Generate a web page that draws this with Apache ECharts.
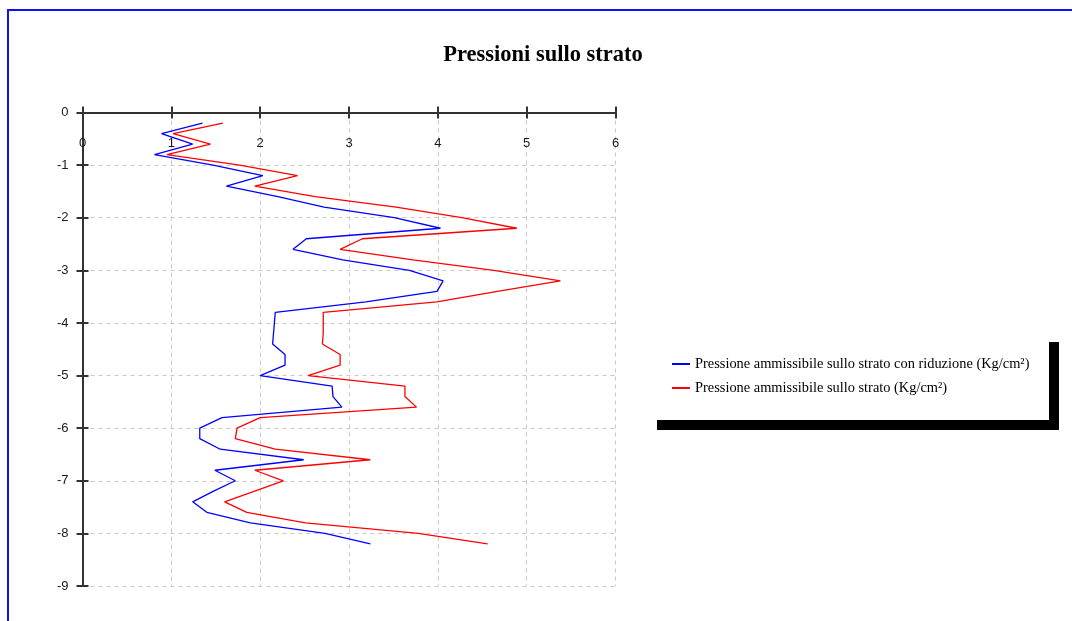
<!DOCTYPE html>
<html>
<head>
<meta charset="utf-8">
<title>Pressioni sullo strato</title>
<script src="https://cdn.jsdelivr.net/npm/echarts@6/dist/echarts.min.js"></script>
<style>
  html, body { margin: 0; padding: 0; background: #ffffff; }
  #chart { width: 1072px; height: 621px; }
</style>
</head>
<body>
<div id="chart"></div>
<script>
// Depth below ground level (m), one reading every 0.2 m
const depths = [
  0.2, 0.4, 0.6, 0.8, 1.0, 1.2, 1.4, 1.6, 1.8, 2.0,
  2.2, 2.4, 2.6, 2.8, 3.0, 3.2, 3.4, 3.6, 3.8, 4.0,
  4.2, 4.4, 4.6, 4.8, 5.0, 5.2, 5.4, 5.6, 5.8, 6.0,
  6.2, 6.4, 6.6, 6.8, 7.0, 7.2, 7.4, 7.6, 7.8, 8.0, 8.2
];

// Allowable pressure on the layer, with reduction (Kg/cm²)
const pressureReduced = [
  1.35, 0.89, 1.24, 0.81, 1.47, 2.03, 1.62, 2.20, 2.72, 3.51,
  4.03, 2.52, 2.37, 2.93, 3.68, 4.06, 3.99, 3.19, 2.17, 2.16,
  2.15, 2.14, 2.28, 2.28, 2.00, 2.81, 2.82, 2.92, 1.57, 1.32,
  1.32, 1.55, 2.49, 1.49, 1.72, 1.47, 1.24, 1.40, 1.89, 2.73, 3.24
];

// Allowable pressure on the layer (Kg/cm²)
const pressureAllowable = [
  1.58, 1.02, 1.44, 0.95, 1.77, 2.42, 1.94, 2.62, 3.53, 4.27,
  4.89, 3.15, 2.90, 3.72, 4.63, 5.38, 4.67, 3.99, 2.71, 2.71,
  2.71, 2.70, 2.90, 2.90, 2.54, 3.63, 3.63, 3.76, 2.00, 1.74,
  1.72, 2.17, 3.24, 1.94, 2.26, 1.93, 1.60, 1.85, 2.51, 3.78, 4.56
];

const seriesNames = [
  'Pressione ammissibile sullo strato con riduzione (Kg/cm²)',
  'Pressione ammissibile sullo strato (Kg/cm²)'
];

const xTicks = [0, 1, 2, 3, 4, 5, 6];
const yTicks = [0, -1, -2, -3, -4, -5, -6, -7, -8, -9];

function toPairs(values) {
  return values.map((v, i) => [v, -depths[i]]);
}

const chart = echarts.init(document.getElementById('chart'), null, { renderer: 'canvas' });

const labelFont = { fontFamily: 'Liberation Sans, Arial, sans-serif', fontSize: 13, color: '#1a1a1a' };
const axisDark = '#333333';
const gridDash = { color: '#c8c8c8', type: [4, 4], width: 1 };

const option = {
  backgroundColor: '#ffffff',
  animation: false,
  title: {
    text: 'Pressioni sullo strato',
    left: 538,
    top: 39,
    textAlign: 'center',
    textStyle: {
      fontFamily: 'Liberation Serif, Times New Roman, serif',
      fontWeight: 'bold',
      fontSize: 22.5,
      color: '#000000'
    }
  },
  legend: {
    orient: 'vertical',
    left: 667,
    top: 351,
    itemGap: 8,
    itemWidth: 18,
    itemHeight: 2,
    icon: 'rect',
    data: seriesNames,
    textStyle: {
      fontFamily: 'Liberation Serif, Times New Roman, serif',
      fontSize: 14.4,
      lineHeight: 16,
      color: '#000000'
    }
  },
  graphic: [
    {
      type: 'rect',
      z: -10,
      shape: { x: 8, y: 10, width: 1100, height: 700 },
      style: { fill: 'none', stroke: '#1010ff', lineWidth: 2 }
    },
    {
      type: 'rect',
      z: -5,
      shape: { x: 1049, y: 342, width: 10, height: 88 },
      style: { fill: '#000000' }
    },
    {
      type: 'rect',
      z: -5,
      shape: { x: 657, y: 420, width: 402, height: 10 },
      style: { fill: '#000000' }
    }
  ],
  grid: {
    left: 82.5,
    top: 112.5,
    width: 533,
    height: 473.5,
    containLabel: false
  },
  xAxis: [
    {
      type: 'value',
      position: 'top',
      min: xTicks[0],
      max: xTicks[xTicks.length - 1],
      interval: 1,
      axisLine: { show: true, onZero: false, lineStyle: { color: axisDark, width: 2 } },
      axisTick: { show: true, length: 6, lineStyle: { color: axisDark, width: 2 } },
      axisLabel: { inside: true, margin: 24, ...labelFont },
      splitLine: { show: true, lineStyle: gridDash }
    },
    {
      type: 'value',
      position: 'top',
      min: xTicks[0],
      max: xTicks[xTicks.length - 1],
      interval: 1,
      axisLine: { show: false },
      axisTick: { show: true, inside: true, length: 6, lineStyle: { color: axisDark, width: 2 } },
      axisLabel: { show: false },
      splitLine: { show: false }
    }
  ],
  yAxis: [
    {
      type: 'value',
      position: 'left',
      min: yTicks[yTicks.length - 1],
      max: yTicks[0],
      interval: 1,
      axisLine: { show: true, onZero: false, lineStyle: { color: axisDark, width: 2 } },
      axisTick: { show: true, length: 6, lineStyle: { color: axisDark, width: 2 } },
      axisLabel: { margin: 14, ...labelFont },
      splitLine: { show: true, lineStyle: gridDash }
    },
    {
      type: 'value',
      position: 'left',
      min: yTicks[yTicks.length - 1],
      max: yTicks[0],
      interval: 1,
      axisLine: { show: false },
      axisTick: { show: true, inside: true, length: 6, lineStyle: { color: axisDark, width: 2 } },
      axisLabel: { show: false },
      splitLine: { show: false }
    }
  ],
  series: [
    {
      name: seriesNames[0],
      type: 'line',
      xAxisIndex: 0,
      yAxisIndex: 0,
      data: toPairs(pressureReduced),
      showSymbol: false,
      symbol: 'none',
      lineStyle: { color: '#0000ff', width: 1.3 },
      itemStyle: { color: '#0000ff' }
    },
    {
      name: seriesNames[1],
      type: 'line',
      xAxisIndex: 0,
      yAxisIndex: 0,
      data: toPairs(pressureAllowable),
      showSymbol: false,
      symbol: 'none',
      lineStyle: { color: '#ff0000', width: 1.3 },
      itemStyle: { color: '#ff0000' }
    }
  ]
};

chart.setOption(option);
</script>
</body>
</html>
